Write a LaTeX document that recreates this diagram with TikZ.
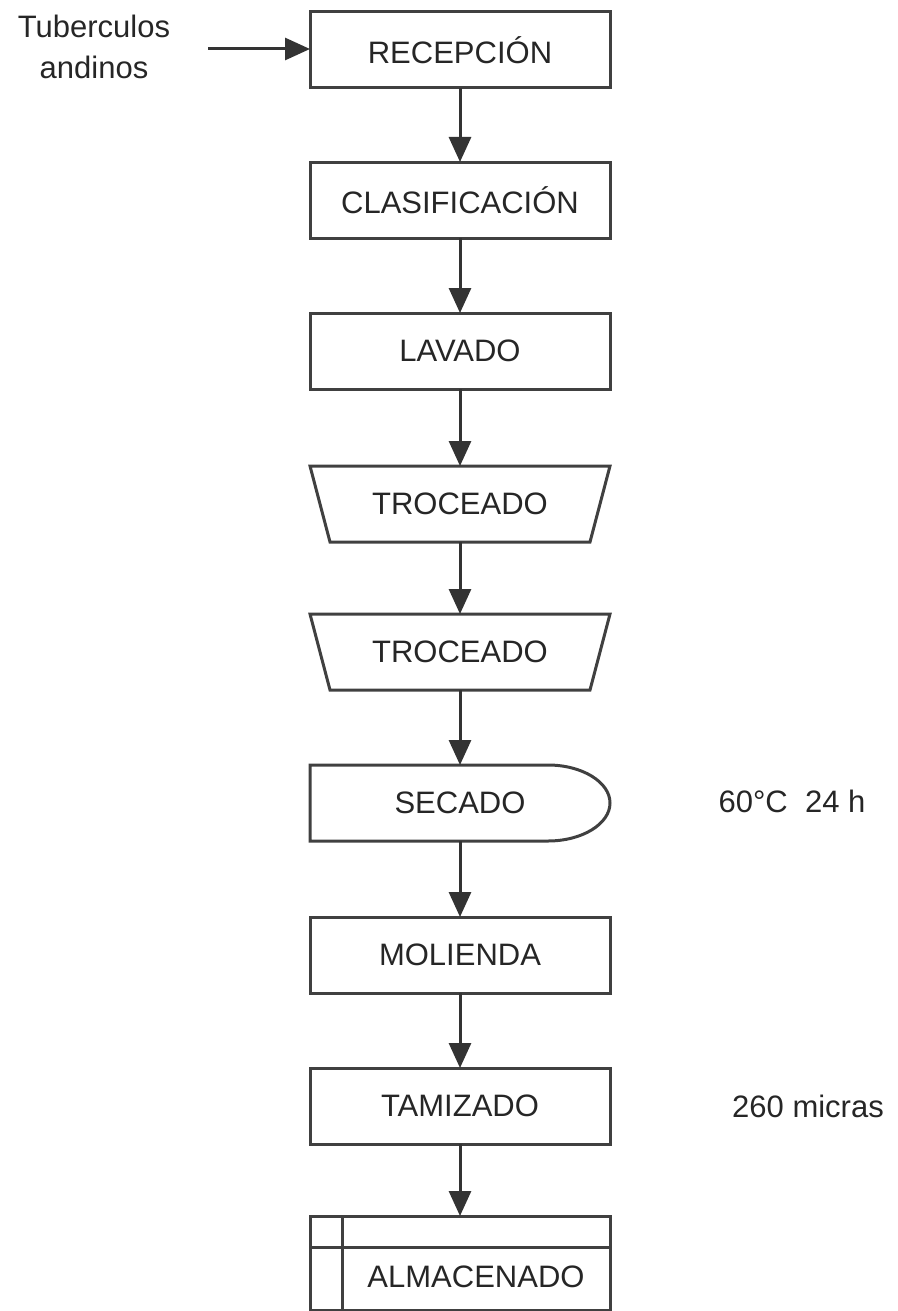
\documentclass[tikz,border=0pt]{standalone}
\usepackage{fontspec}
\setmainfont{Liberation Sans}
\usetikzlibrary{arrows.meta,calc}
\tikzset{
  lbl/.style={font=\fontsize{31}{41}\selectfont, text=black!85, inner sep=0pt, outer sep=0pt},
  procbox/.style={lbl, draw=black!75, line width=3pt, minimum width=300pt, minimum height=76pt},
  plainbox/.style={lbl, minimum width=300pt, minimum height=76pt},
  shapeline/.style={draw=black!75, line width=3pt, line join=miter},
  flow/.style={draw=black!80, line width=3pt, -{Triangle[length=25pt,width=22pt]}},
}
\begin{document}
\begin{tikzpicture}[x=1pt,y=-1pt]
\useasboundingbox (0,0) rectangle (897,1311);

\node[lbl, align=center] (tub) at (94,47) {Tuberculos\\andinos};
\coordinate (inp) at (208,49);

\node[procbox] (rec) at (460,50) {RECEPCIÓN};
\node[procbox] (cla) at (460,200) {CLASIFICACIÓN};
\node[procbox] (lav) at (460,351) {LAVADO};
\node[plainbox] (tro1) at (460,504) {TROCEADO};
\node[plainbox] (tro2) at (460,652) {TROCEADO};
\node[plainbox] (sec) at (460,803) {SECADO};
\node[procbox] (mol) at (460,955) {MOLIENDA};
\node[procbox] (tam) at (460,1106) {TAMIZADO};
\node[lbl, minimum width=300pt, minimum height=94pt] (alm) at (460,1263) {};
\node[lbl] (almt) at (476,1277) {ALMACENADO};

\node[lbl] (temp) at (792,801) {60°C\ \ 24 h};
\node[lbl] (mic) at (808,1106) {260 micras};

% trapezoids
\path[shapeline] (tro1.north west) -- (tro1.north east) -- ([xshift=-20pt]tro1.south east) -- ([xshift=20pt]tro1.south west) -- cycle;
\path[shapeline] (tro2.north west) -- (tro2.north east) -- ([xshift=-20pt]tro2.south east) -- ([xshift=20pt]tro2.south west) -- cycle;

% delay shape
\path[shapeline] (sec.north west) -- ([xshift=-62pt]sec.north east)
  .. controls ([xshift=-28pt]sec.north east) and ([yshift=21pt]sec.east) .. (sec.east)
  .. controls ([yshift=-21pt]sec.east) and ([xshift=-28pt]sec.south east) .. ([xshift=-62pt]sec.south east)
  -- (sec.south west) -- cycle;

% storage box
\path[shapeline] (alm.north west) rectangle (alm.south east);
\path[shapeline] ([yshift=-31pt]alm.north west) -- ([yshift=-31pt]alm.north east);
\path[shapeline] ([xshift=32pt]alm.north west) -- ([xshift=32pt]alm.south west);

% connectors
\draw[flow] (inp) -- (inp -| rec.west);
\draw[flow] (rec) -- (cla);
\draw[flow] (cla) -- (lav);
\draw[flow] (lav) -- (tro1);
\draw[flow] (tro1) -- (tro2);
\draw[flow] (tro2) -- (sec.north);
\draw[flow] (sec.south) -- (mol.north);
\draw[flow] (mol) -- (tam);
\draw[flow] (tam) -- (alm);
\end{tikzpicture}
\end{document}
